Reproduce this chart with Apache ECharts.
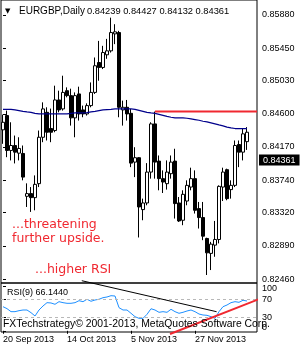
<!DOCTYPE html>
<html><head><meta charset="utf-8">
<script src="https://cdn.jsdelivr.net/npm/echarts@6/dist/echarts.min.js"></script>
<style>html,body{margin:0;padding:0;background:#fff}#c{width:300px;height:350px}</style>
</head><body><div id="c"></div>
<script>
const symbolName = 'EURGBP,Daily';
const dates = ['20 Sep 2013','23 Sep 2013','24 Sep 2013','25 Sep 2013','26 Sep 2013','27 Sep 2013','30 Sep 2013','1 Oct 2013','2 Oct 2013','3 Oct 2013','4 Oct 2013','7 Oct 2013','8 Oct 2013','9 Oct 2013','10 Oct 2013','11 Oct 2013','14 Oct 2013','15 Oct 2013','16 Oct 2013','17 Oct 2013','18 Oct 2013','21 Oct 2013','22 Oct 2013','23 Oct 2013','24 Oct 2013','25 Oct 2013','28 Oct 2013','29 Oct 2013','30 Oct 2013','31 Oct 2013','1 Nov 2013','4 Nov 2013','5 Nov 2013','6 Nov 2013','7 Nov 2013','8 Nov 2013','11 Nov 2013','12 Nov 2013','13 Nov 2013','14 Nov 2013','15 Nov 2013','18 Nov 2013','19 Nov 2013','20 Nov 2013','21 Nov 2013','22 Nov 2013','25 Nov 2013','26 Nov 2013','27 Nov 2013','28 Nov 2013','29 Nov 2013','2 Dec 2013','3 Dec 2013','4 Dec 2013','5 Dec 2013','6 Dec 2013','9 Dec 2013','10 Dec 2013','11 Dec 2013','12 Dec 2013','13 Dec 2013','16 Dec 2013'];
const opens = [0.84392,0.84577,0.84125,0.84189,0.84090,0.84086,0.83531,0.83566,0.83514,0.83695,
 0.84296,0.84619,0.84409,0.84383,0.84779,0.84663,0.84899,0.84835,0.84547,0.84857,
 0.84650,0.84598,0.84706,0.84877,0.85264,0.85200,0.85364,0.85415,0.85635,0.85652,
 0.84650,0.84684,0.84606,0.83974,0.84031,0.83359,0.83445,0.83845,0.84469,0.83987,
 0.83760,0.83695,0.83824,0.83987,0.83445,0.83221,0.83470,0.83651,0.83760,0.83372,
 0.83256,0.82985,0.82792,0.82899,0.82972,0.83651,0.83876,0.83618,0.83673,0.84202,
 0.84103,0.84239];
const closes = [0.84490,0.84125,0.84189,0.84103,0.84151,0.83780,0.83566,0.83514,0.83686,0.84296,
 0.84663,0.84361,0.84361,0.84779,0.84650,0.84877,0.84835,0.84547,0.84835,0.84598,
 0.84598,0.84706,0.84877,0.85222,0.85200,0.85393,0.85415,0.85652,0.85661,0.84684,
 0.84684,0.84598,0.83961,0.84031,0.83393,0.83445,0.83845,0.84469,0.83974,0.83760,
 0.83716,0.83845,0.83974,0.83437,0.83212,0.83557,0.83673,0.83760,0.83350,0.83256,
 0.83015,0.82799,0.82912,0.82972,0.83660,0.83845,0.83501,0.83673,0.84189,0.84103,
 0.84340,0.84361];
const lows = [0.84211,0.84038,0.83996,0.83957,0.83996,0.83738,0.83393,0.83329,0.83350,0.83651,
 0.84232,0.84254,0.84232,0.84361,0.84619,0.84641,0.84813,0.84447,0.84296,0.84512,
 0.84555,0.84577,0.84684,0.84857,0.85028,0.85179,0.85312,0.85393,0.85502,0.84555,
 0.84447,0.84512,0.83909,0.83780,0.82998,0.83221,0.83415,0.83760,0.83760,0.83609,
 0.83574,0.83618,0.83760,0.83243,0.83199,0.83157,0.83415,0.83609,0.83308,0.83114,
 0.82963,0.82512,0.82576,0.82748,0.82921,0.83470,0.83480,0.83501,0.83651,0.83909,
 0.83996,0.84132];
const highs = [0.84589,0.84641,0.84490,0.84318,0.84296,0.84189,0.83699,0.83651,0.83802,0.84383,
 0.84748,0.84684,0.84667,0.84964,0.84899,0.85093,0.84942,0.84925,0.84877,0.84951,
 0.84706,0.84735,0.85006,0.85329,0.85544,0.85480,0.85570,0.85845,0.85760,0.85674,
 0.84770,0.84779,0.84663,0.84167,0.84038,0.83501,0.83961,0.84490,0.84628,0.84060,
 0.83867,0.83996,0.84060,0.84147,0.83522,0.83609,0.83738,0.83902,0.83867,0.83458,
 0.83458,0.82995,0.82941,0.83212,0.83673,0.83902,0.83889,0.83738,0.84254,0.84254,
 0.84405,0.84427];
const movingAvg = [0.84658,0.84658,0.84658,0.84650,0.84641,0.84632,0.84624,0.84619,0.84606,0.84598,
 0.84598,0.84598,0.84598,0.84598,0.84598,0.84598,0.84598,0.84606,0.84611,0.84611,
 0.84611,0.84615,0.84624,0.84632,0.84641,0.84650,0.84654,0.84658,0.84663,0.84663,
 0.84663,0.84663,0.84663,0.84658,0.84645,0.84632,0.84619,0.84611,0.84606,0.84593,
 0.84580,0.84567,0.84555,0.84547,0.84547,0.84547,0.84542,0.84534,0.84525,0.84516,
 0.84503,0.84495,0.84482,0.84469,0.84456,0.84444,0.84428,0.84418,0.84409,0.84409,
 0.84409,0.84409];
const rsi9 = [53.6,49.2,42.5,42.5,44.7,46.2,46.2,40.3,32.9,46.2,
 55.1,62.5,61.8,58.9,64.7,62.5,61.1,61.1,62.5,66.9,
 64.7,70.0,65.6,68.4,70.0,73.6,75.1,78.0,77.3,51.4,
 46.2,46.2,38.9,31.4,27.7,27.7,36.6,49.0,46.2,41.1,
 42.5,41.1,47.8,42.5,38.9,41.1,44.0,46.2,42.5,37.3,
 35.1,34.4,31.4,27.7,42.5,53.6,57.3,62.5,64.7,63.3,
 67.8,66.144];
const priceTicks = [0.82460,0.82890,0.83320,0.83740,0.84170,0.84600,0.85030,0.85450,0.85880];
const rsiTicks = [0,30,70,100];
const rsiLevels = [30,70];
const resistanceLine = [[38,0.84628],[63.5,0.84628]];
const rsiFallingLine = [[19.7,111.3],[53.4,42.4]];
const rsiRisingLine = [[41.75,-7.1],[66,77.3]];

const slots = 64;
const cats = dates.concat(Array(slots - dates.length).fill(''));
const candles = dates.map((d,i)=>[opens[i],closes[i],lows[i],highs[i]]);
const last = dates.length - 1;
const f5 = v => Number(v).toFixed(5);
const ohlcText = [opens[last],highs[last],lows[last],closes[last]].map(f5).join(' ');
const FONT = '"Liberation Sans", Arial, sans-serif';
const RED = '#f02830';

const chart = echarts.init(document.getElementById('c'), null, {renderer:'canvas'});
chart.setOption({
  animation:false,
  backgroundColor:'#fff',
  textStyle:{fontFamily:FONT},
  grid:[
    {left:1, top:-1, width:256, height:284, show:true, borderColor:'#000', borderWidth:1},
    {left:1, top:283, width:256, height:49, show:true, borderColor:'#000', borderWidth:1}
  ],
  xAxis:[
    {type:'category', gridIndex:0, data:cats, boundaryGap:true, axisLine:{show:false}, axisTick:{show:false}, axisLabel:{show:false}},
    {type:'category', gridIndex:1, data:cats, boundaryGap:true, axisLine:{show:false},
      axisTick:{show:true, interval:15, alignWithLabel:true, length:3, lineStyle:{color:'#000'}},
      axisLabel:{interval:15, align:'left', margin:3, fontSize:9, color:'#000', fontFamily:FONT}},
    {type:'value', gridIndex:0, min:-0.5, max:63.5, show:false},
    {type:'value', gridIndex:1, min:-0.5, max:63.5, show:false}
  ],
  yAxis:[
    {type:'value', gridIndex:0, position:'right', min:0.824084, max:0.860736,
      splitLine:{show:false}, axisLine:{show:false},
      axisTick:{show:true, length:3, customValues:priceTicks, lineStyle:{color:'#000'}},
      axisLabel:{customValues:priceTicks, formatter:v=>f5(v), fontSize:9, color:'#000', margin:5, fontFamily:FONT, padding:[3,0,0,0], hideOverlap:false}},
    {type:'value', gridIndex:1, position:'right', min:-2.67, max:106.2,
      splitLine:{show:false}, axisLine:{show:false},
      axisTick:{show:true, length:3, customValues:rsiTicks, lineStyle:{color:'#000'}},
      axisLabel:{customValues:rsiTicks, margin:5, fontSize:9, color:'#000', fontFamily:FONT, hideOverlap:false,
        showMinLabel:true, showMaxLabel:true,
        formatter:v=> Number(v)===100 ? '{d|100}' : (Number(v)===0 ? '{u|0}' : '{n|'+v+'}'),
        rich:{d:{padding:[6,0,0,0],fontSize:9}, u:{padding:[0,0,6,0],fontSize:9}, n:{fontSize:9}}}}
  ],
  series:[
    {type:'candlestick', xAxisIndex:0, yAxisIndex:0, data:candles, barWidth:3, z:3,
      itemStyle:{color:'#fff', color0:'#000', borderColor:'#000', borderColor0:'#000', borderWidth:1}},
    {type:'line', xAxisIndex:0, yAxisIndex:0, data:movingAvg, symbol:'none', z:4,
      lineStyle:{color:'#00008b', width:1.2},
      markLine:{symbol:'none', silent:true, animation:false,
        lineStyle:{color:'rgba(0,0,0,0)', width:0},
        data:[{yAxis:closes[last]}],
        label:{show:true, position:'end', distance:2, formatter:()=>f5(closes[last]), backgroundColor:'#000', color:'#fff',
          padding:[1,4,0,4], lineHeight:10, fontSize:9, fontFamily:FONT}}},
    {type:'line', xAxisIndex:2, yAxisIndex:0, data:resistanceLine, symbol:'none', z:5,
      lineStyle:{color:RED, width:2}},
    {type:'line', xAxisIndex:1, yAxisIndex:1, data:rsi9, symbol:'none', z:4,
      lineStyle:{color:'#1e90ff', width:1},
      markLine:{symbol:'none', silent:true, animation:false, label:{show:false},
        lineStyle:{color:'#b8b8b8', type:[3,3], width:1},
        data:rsiLevels.map(v=>({yAxis:v}))}},
    {type:'line', xAxisIndex:3, yAxisIndex:1, data:rsiFallingLine, symbol:'none', clip:false, z:5,
      lineStyle:{color:'#000', width:1}},
    {type:'line', xAxisIndex:3, yAxisIndex:1, data:rsiRisingLine, symbol:'none', clip:false, z:6,
      lineStyle:{color:RED, width:2}}
  ],
  graphic:[
    {type:'text', x:5, y:11.5, z:10, style:{text:'▼', font:'7px "DejaVu Sans"', fill:'#000', verticalAlign:'middle'}},
    {type:'text', x:19, y:11.5, z:10, style:{text:symbolName, font:'10px '+FONT, fill:'#000', verticalAlign:'middle'}},
    {type:'text', x:87, y:11.5, z:10, style:{text:ohlcText, font:'9.3px '+FONT, fill:'#000', verticalAlign:'middle'}},
    {type:'text', x:12, y:225, z:10, style:{text:'...threatening', font:'12.5px "DejaVu Sans"', fill:RED, verticalAlign:'middle'}},
    {type:'text', x:12, y:238.3, z:10, style:{text:'further upside.', font:'12.5px "DejaVu Sans"', fill:RED, verticalAlign:'middle'}},
    {type:'text', x:35, y:270, z:10, style:{text:'...higher RSI', font:'12.5px "DejaVu Sans"', fill:RED, verticalAlign:'middle'}},
    {type:'text', x:7, y:292.5, z:10, style:{text:'RSI(9) '+rsi9[last].toFixed(4), font:'9px '+FONT, fill:'#000', verticalAlign:'middle'}},
    {type:'text', x:3, y:324.5, z:10, style:{text:'FXTechstrategy\u00a9 2001-2013, MetaQuotes Software Corp.', font:'10.4px '+FONT, fill:'#000', verticalAlign:'middle'}}
  ]
});
</script>
</body></html>
